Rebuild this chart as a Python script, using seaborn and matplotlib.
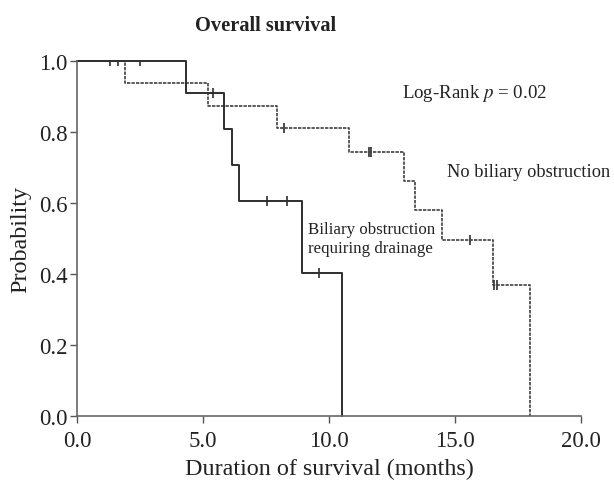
import matplotlib
matplotlib.use("Agg")
import matplotlib.pyplot as plt
import seaborn as sns
import pandas as pd

# Biliary obstruction requiring drainage (solid)
bil_times = [0.0, 4.33, 5.85, 6.15, 6.43, 8.93, 10.5]
bil_surv = [1.0, 0.909, 0.808, 0.707, 0.606, 0.404, 0.0]
bil_cens_t = [2.5, 5.4, 7.54, 8.33, 9.6]
bil_cens_s = [1.0, 0.909, 0.606, 0.606, 0.404]

# No biliary obstruction (dashed)
nob_times = [0.0, 1.9, 5.2, 7.94, 10.8, 12.98, 13.42, 14.5, 16.5, 17.98]
nob_surv = [1.0, 0.937, 0.874, 0.812, 0.745, 0.662, 0.58, 0.497, 0.369, 0.0]
nob_cens_t = [1.31, 1.63, 8.2, 11.6, 11.67, 15.6, 16.55, 16.67]
nob_cens_s = [1.0, 1.0, 0.812, 0.745, 0.745, 0.497, 0.369, 0.369]

x_ticks = [0, 5, 10, 15, 20]
x_ticklabels = ["0.0", "5.0", "10.0", "15.0", "20.0"]
y_ticks = [0.0, 0.2, 0.4, 0.6, 0.8, 1.0]
y_ticklabels = ["0.0", "0.2", "0.4", "0.6", "0.8", "1.0"]

sns.set_style("ticks")
plt.rcParams['font.family'] = ['Liberation Serif', 'DejaVu Serif']
plt.rcParams['mathtext.fontset'] = 'stix'

fig = plt.figure(figsize=(6.14, 4.81), dpi=100)
ax = fig.add_axes([0.1254, 0.133, 0.8206, 0.738])

df_b = pd.DataFrame({"t": bil_times, "s": bil_surv})
df_n = pd.DataFrame({"t": nob_times, "s": nob_surv})

sns.lineplot(data=df_n, x="t", y="s", ax=ax, drawstyle="steps-post",
             color="#404040", lw=1.2, linestyle=(0, (2.0, 0.7)), estimator=None)
sns.lineplot(data=df_b, x="t", y="s", ax=ax, drawstyle="steps-post",
             color="#2e2e2e", lw=1.4, estimator=None)

sns.scatterplot(x=nob_cens_t, y=nob_cens_s, ax=ax, marker="|", s=45,
                color="#2e2e2e", linewidth=1.2)
sns.scatterplot(x=bil_cens_t, y=bil_cens_s, ax=ax, marker="|", s=45,
                color="#2e2e2e", linewidth=1.2)

ax.set_xlim(0, 20)
ax.set_ylim(0, 1.0)
ax.set_xticks(x_ticks)
ax.set_xticklabels(x_ticklabels)
ax.set_yticks(y_ticks)
ax.set_yticklabels(y_ticklabels)
ax.tick_params(labelsize=16.5, length=5, width=1, color="#555555", labelcolor="#222222", pad=2)
ax.tick_params(axis="x", pad=5)
for sp in ["left", "bottom"]:
    ax.spines[sp].set_color("#666666")
    ax.spines[sp].set_linewidth(1.2)
sns.despine(ax=ax)
ax.set_xlabel("Duration of survival (months)", fontsize=17.4, color="#222222", labelpad=5)
ax.set_ylabel("Probability", fontsize=17.4, color="#222222", labelpad=5)
fig.text(0.433, 0.946, "Overall survival", fontsize=14.7, fontweight="bold",
         color="#222222", ha="center", va="center")

ax.text(12.9, 0.91, "Log-Rank $p$ = 0.02", fontsize=13.6, color="#222222", va="center")
ax.text(14.68, 0.69, "No biliary obstruction", fontsize=13.2, color="#222222", va="center")
ax.text(9.17, 0.5, "Biliary obstruction\nrequiring drainage", fontsize=12.2,
        color="#222222", va="center", ha="left", linespacing=1.3)
for l in ax.lines:
    l.set_clip_on(False)

fig.savefig("out.png", dpi=100)
